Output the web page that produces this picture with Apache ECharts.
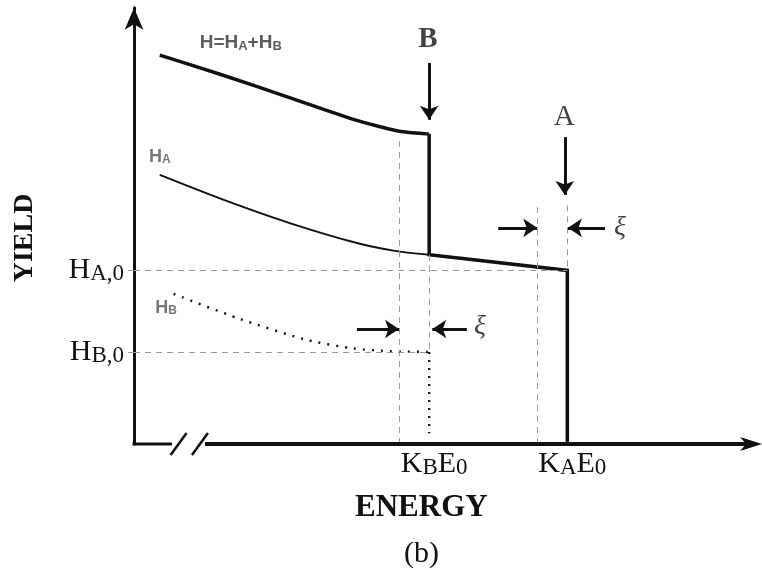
<!DOCTYPE html>
<html>
<head>
<meta charset="utf-8">
<script src="https://cdn.jsdelivr.net/npm/echarts@6/dist/echarts.min.js"></script>
<style>
  html, body { margin: 0; padding: 0; background: #fff; }
  #chart { width: 762px; height: 570px; }
</style>
</head>
<body>
<div id="chart"></div>
<script>
// Characteristic energies (arbitrary units) and surface yields
const KB = 47;      // K_B E0
const KA = 69;      // K_A E0
const XI = 4.8;     // energy shift ξ
const HA0 = 40;     // H_A,0
const HB0 = 21.2;   // H_B,0
const HA_AT_KB = 43.6;

const energyTicks = [KB, KA];
const energyTickLabels = ['{m|K}{s|B}{m|E}{s|0}', '{m|K}{s|A}{m|E}{s|0}'];
const yieldTicks = [HA0, HB0];
const yieldTickLabels = ['{m|H}{s|A,0}', '{m|H}{s|B,0}'];

// total yield H = HA + HB below K_B E0
const totalCurve = [[4.1, 89.6], [13.7, 85.2], [24.4, 80.0], [34.9, 74.8], [39.2, 73.1], [42.5, 72.0], [KB, 71.4]];
// total yield: B edge, then A only, then A edge
const totalEdge = [[KB, 71.4], [KB, HA_AT_KB], [KA, HA0], [KA, 0]];
// element A contribution
const curveA = [[4.1, 62.0], [14.2, 56.3], [24.8, 50.9], [35.5, 46.3], [41.5, 44.5], [KB, HA_AT_KB]];
// element B contribution
const curveB = [[6.3, 34.6], [16.9, 28.8], [27.5, 24.0], [35.0, 22.0], [41.0, 21.4], [KB, HB0]];
const edgeB = [[KB, HB0], [KB, 2.5]];

// dashed guide segments
const guides = [
  [[0, HA0], [KA, HA0]],
  [[0, HB0], [KB, HB0]],
  [[KB - XI, 0], [KB - XI, 70.7]],
  [[KB, HA_AT_KB], [KB, HB0]],
  [[KA - XI, 0], [KA - XI, 55]],
  [[KA, 55], [KA, HA0]]
];
// pointer arrows: [tail, head]
const arrows = [
  [[KB, 87.8], [KB, 74.7]],
  [[68.6, 70.7], [68.6, 57.4]],
  [[58.0, 49.8], [KA - XI, 49.8]],
  [[75.0, 49.8], [KA + 0.1, 49.8]],
  [[35.5, 26.5], [KB - XI, 26.5]],
  [[53.0, 26.5], [KB + 0.5, 26.5]]
];
// text annotations
const notes = [
  { x: 17.0, y: 92.4, text: '{m|H=H}{s|A}{m|+H}{s|B}', kind: 'formula' },
  { x: 4.1, y: 66.1, text: '{m|H}{s|A}', kind: 'tag' },
  { x: 5.1, y: 31.3, text: '{m|H}{s|B}', kind: 'tag' },
  { x: 46.8, y: 93.1, text: 'B', kind: 'edgeB' },
  { x: 68.5, y: 75.3, text: 'A', kind: 'edgeA' },
  { x: 77.4, y: 49.8, text: 'ξ', kind: 'xi' },
  { x: 55.1, y: 27.0, text: 'ξ', kind: 'xi' }
];

// axis break position on the energy axis
const BREAK_FROM = 6.05;
const BREAK_TO = 11.3;
const SLASHES = [7.1, 10.5];

const SERIF = '"Liberation Serif", "Times New Roman", serif';
const SANS = '"Liberation Sans", Arial, sans-serif';
const INK = '#111';

function subRich(main, sub, family, weight, color) {
  return {
    m: { fontSize: main, fontFamily: family, fontWeight: weight, color: color, verticalAlign: 'bottom' },
    s: { fontSize: sub, fontFamily: family, fontWeight: weight, color: color, verticalAlign: 'bottom' }
  };
}

const noteStyles = {
  formula: { rich: subRich(19, 13, SANS, 'bold', '#333') },
  tag: { rich: subRich(18, 12, SANS, 'bold', '#555') },
  edgeB: { fontFamily: SERIF, fontWeight: 'bold', fontSize: 29, color: INK },
  edgeA: { fontFamily: SERIF, fontWeight: 'normal', fontSize: 29, color: INK },
  xi: { fontFamily: SERIF, fontStyle: 'italic', fontSize: 28, color: INK }
};

const chart = echarts.init(document.getElementById('chart'), null, { renderer: 'canvas' });

chart.setOption({
  animation: false,
  backgroundColor: '#fff',
  title: [
    { text: 'ENERGY', left: 350, top: 487, textStyle: { fontFamily: SERIF, fontWeight: 'bold', fontSize: 31, color: INK } },
    { text: '(b)', left: 399, top: 534, textStyle: { fontFamily: SERIF, fontWeight: 'normal', fontSize: 30, color: INK } }
  ],
  grid: { left: 134, right: 0, top: 7.83, bottom: 126, containLabel: false },
  xAxis: {
    type: 'value', min: 0, max: 100,
    axisLine: { show: false },
    axisTick: { show: false },
    splitLine: { show: false },
    axisLabel: {
      customValues: energyTicks,
      margin: 5,
      padding: [0, 0, 0, 10],
      formatter: v => energyTickLabels[energyTicks.indexOf(v)],
      rich: subRich(30, 23, SERIF, 'normal', INK)
    }
  },
  yAxis: {
    type: 'value', min: 0, max: 100.5,
    axisLine: { show: true, symbol: ['none', 'arrow'], symbolSize: [14, 22], lineStyle: { color: INK, width: 3 } },
    axisTick: { show: true, customValues: yieldTicks, length: 6, lineStyle: { color: '#999', width: 1 } },
    splitLine: { show: false },
    axisLabel: {
      customValues: yieldTicks,
      margin: 10,
      formatter: v => yieldTickLabels[yieldTicks.indexOf(v)],
      rich: subRich(30, 23, SERIF, 'normal', INK)
    },
    name: 'YIELD',
    nameLocation: 'middle',
    nameRotate: 90,
    nameGap: 95,
    nameTextStyle: { fontFamily: SERIF, fontWeight: 'bold', fontSize: 28, color: INK, padding: [0, 24, 0, 0] }
  },
  series: [
    {
      name: 'HA', type: 'line', data: curveA, smooth: 0.25, symbol: 'none', z: 3,
      lineStyle: { color: INK, width: 2 },
      markLine: {
        silent: true, symbol: ['none', 'none'], label: { show: false },
        lineStyle: { color: '#9a9a9a', width: 1, type: [6, 5] },
        data: guides.map(g => [{ coord: g[0] }, { coord: g[1] }])
      }
    },
    {
      name: 'HB', type: 'line', data: curveB, smooth: 0.25, symbol: 'none', z: 3,
      lineStyle: { color: INK, width: 2.4, type: [2, 7] }
    },
    {
      name: 'HB edge', type: 'line', data: edgeB, symbol: 'none', z: 3,
      lineStyle: { color: INK, width: 2.4, type: [2, 6] }
    },
    {
      name: 'H', type: 'line', data: totalCurve, smooth: 0.25, symbol: 'none', z: 4,
      lineStyle: { color: INK, width: 3.5 }
    },
    {
      name: 'H edge', type: 'line', data: totalEdge, symbol: 'none', z: 4,
      lineStyle: { color: INK, width: 3.5, join: 'miter' },
      markLine: {
        silent: true, symbol: ['none', 'arrow'], symbolSize: 14, label: { show: false },
        lineStyle: { color: INK, width: 3, type: 'solid' },
        data: arrows.map(a => [{ coord: a[0] }, { coord: a[1] }])
      }
    },
    {
      name: 'notes', type: 'scatter', symbolSize: 0, z: 5, silent: true,
      data: notes.map(n => ({
        value: [n.x, n.y],
        label: Object.assign({ show: true, position: 'inside', formatter: n.text }, noteStyles[n.kind])
      }))
    },
    {
      // energy axis with a break near the origin
      name: 'energy axis', type: 'custom', silent: true, z: 6, data: [[0, 0]],
      renderItem: function (params, api) {
        const o = api.coord([0, 0]);
        const b1 = api.coord([BREAK_FROM, 0]);
        const b2 = api.coord([BREAK_TO, 0]);
        const end = api.coord([100, 0]);
        const y = o[1];
        const children = [
          { type: 'line', shape: { x1: o[0] - 1.5, y1: y, x2: b1[0], y2: y }, style: { stroke: INK, lineWidth: 3 } },
          { type: 'line', shape: { x1: b2[0], y1: y, x2: end[0] - 14, y2: y }, style: { stroke: INK, lineWidth: 4 } },
          { type: 'polygon', shape: { points: [[end[0], y], [end[0] - 22, y - 7], [end[0] - 16, y], [end[0] - 22, y + 7]] }, style: { fill: INK } }
        ];
        SLASHES.forEach(sx => {
          const c = api.coord([sx, 0]);
          children.push({ type: 'line', shape: { x1: c[0] - 8, y1: y + 11, x2: c[0] + 8, y2: y - 11 }, style: { stroke: INK, lineWidth: 2.5 } });
        });
        return { type: 'group', children: children };
      }
    }
  ]
});
</script>
</body>
</html>
